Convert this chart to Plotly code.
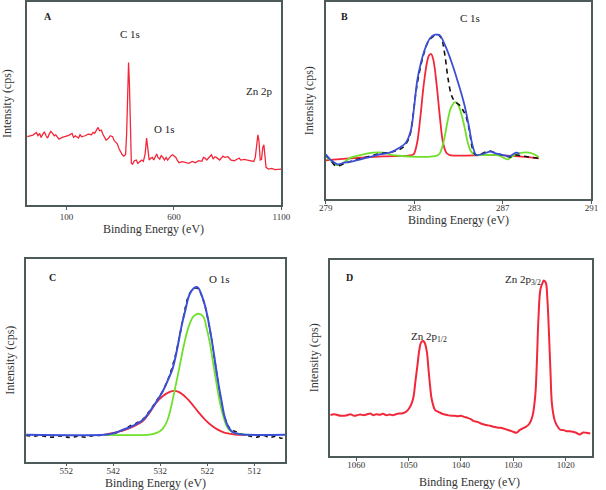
import plotly.graph_objects as go

# ---------------- Panel A: survey spectrum ----------------
A_be = [-83, -71, -56, -40, -33, -25, -18, -10, -3, 5, 12, 20, 27, 35, 43, 50, 58, 65, 80, 95,
        111, 126, 133, 141, 156, 163, 171, 186, 201, 216, 224, 231, 239, 247, 254, 262, 269, 277,
        284, 292, 304, 315, 322, 330, 337, 345, 352, 360, 367, 375, 380, 384, 389, 393, 398, 402,
        408, 416, 425, 432, 443, 451, 458, 466, 473, 479, 485, 493, 500, 506, 514, 520, 526, 534,
        541, 549, 556, 564, 571, 579, 587, 594, 602, 609, 617, 624, 639, 655, 670, 685, 700, 715,
        730, 738, 745, 753, 768, 775, 783, 791, 798, 806, 813, 821, 828, 836, 851, 866, 881, 896,
        904, 911, 927, 942, 957, 972, 979, 987, 991, 996, 1002, 1008, 1014, 1019, 1023, 1029,
        1040, 1055, 1070, 1085, 1100]
A_int = [2060, 2090, 2110, 2190, 2090, 2160, 2040, 2140, 2210, 2090, 2020, 2140, 2220, 2160, 2090,
         2120, 2040, 1990, 2040, 2060, 2100, 2160, 2040, 2090, 2020, 2120, 2060, 2090, 2140, 2120,
         2190, 2160, 2240, 2340, 2240, 2260, 2140, 2020, 1960, 1990, 2090, 2060, 1940, 1890, 1840,
         1690, 1590, 1520, 1480, 1520, 2140, 3640, 4290, 3640, 1940, 1260, 1240, 1340, 1360, 1260,
         1320, 1360, 1320, 1540, 2020, 1740, 1360, 1420, 1440, 1360, 1460, 1540, 1440, 1390, 1490,
         1440, 1360, 1440, 1360, 1440, 1490, 1520, 1490, 1440, 1340, 1280, 1310, 1280, 1260, 1320,
         1280, 1340, 1320, 1440, 1420, 1360, 1460, 1520, 1390, 1460, 1440, 1400, 1360, 1420, 1480,
         1440, 1460, 1360, 1340, 1390, 1420, 1360, 1380, 1360, 1340, 1320, 1440, 1940, 2120, 1940,
         1360, 1380, 1740, 1820, 1440, 1140, 1090, 1110, 1070, 1090, 1090]
A_ticks = [100, 600, 1100]

# ---------------- Panel B: C 1s ----------------
B_raw_be = [279.00, 279.25, 279.47, 279.84, 280.27, 280.86, 281.45, 282.03, 282.47, 282.77, 282.91,
            283.06, 283.21, 283.42, 283.64, 283.86, 284.08, 284.23, 284.38, 284.52, 284.67, 284.82,
            285.04, 285.18, 285.33, 285.48, 285.62, 285.77, 285.92, 286.14, 286.43, 286.72, 287.01,
            287.31, 287.60, 287.89, 288.19, 288.63]
B_raw = [1320, 1140, 990, 1060, 1160, 1260, 1360, 1420, 1540, 1840, 2340, 3140, 3740, 4340, 4740,
         4890, 4940, 4820, 4340, 3640, 3140, 2940, 2820, 2690, 2490, 2090, 1540, 1320, 1320, 1390,
         1440, 1360, 1320, 1260, 1320, 1290, 1260, 1220]
B_env_be = [279.00, 279.25, 279.54, 279.84, 280.27, 280.86, 281.45, 281.89, 282.33, 282.62, 282.84,
            282.99, 283.13, 283.28, 283.50, 283.72, 283.94, 284.05, 284.16, 284.38, 284.67, 284.96,
            285.26, 285.48, 285.62, 285.77, 285.84, 286.14, 286.43, 286.72, 287.01, 287.31, 287.60,
            287.75]
B_env = [1340, 1160, 1040, 1090, 1140, 1240, 1340, 1390, 1540, 1690, 2040, 2740, 3540, 4040, 4540,
         4840, 4940, 4940, 4920, 4640, 4140, 3540, 2840, 2140, 1640, 1340, 1320, 1360, 1420, 1360,
         1320, 1290, 1390, 1360]
B_red_be = [279.00, 280.13, 281.59, 282.91, 282.99, 283.13, 283.28, 283.42, 283.57, 283.67, 283.76,
            283.86, 284.01, 284.16, 284.30, 284.45, 284.60, 286.72, 288.63]
B_red = [1160, 1220, 1280, 1320, 1360, 1690, 2490, 3390, 4090, 4320, 4360, 4190, 3440, 2440, 1690,
         1390, 1320, 1320, 1220]
B_green_be = [279.00, 279.25, 279.47, 279.69, 280.13, 280.57, 281.15, 281.59, 282.03, 284.08, 284.23,
              284.38, 284.52, 284.67, 284.85, 284.96, 285.11, 285.26, 285.40, 285.55, 285.70, 285.84,
              286.72, 286.87, 287.09, 287.23, 287.38, 287.60, 287.89, 288.19, 288.48, 288.63]
B_green = [1290, 1140, 1020, 1040, 1240, 1320, 1390, 1390, 1320, 1320, 1490, 1890, 2390, 2760, 2910,
           2860, 2590, 2190, 1740, 1440, 1340, 1320, 1320, 1290, 1220, 1190, 1260, 1340, 1390, 1390,
           1320, 1240]
B_ticks = [279, 283, 287, 291]

# ---------------- Panel C: O 1s ----------------
C_raw_be = [560.5, 559.1, 557.7, 556.4, 555.0, 553.6, 552.2, 550.8, 549.5, 548.1, 546.7, 545.3, 543.9,
            542.5, 541.2, 539.8, 538.4, 537.0, 535.6, 534.2, 532.9, 531.5, 530.1, 528.7, 527.3, 526.0,
            525.0, 524.3, 523.6, 522.5, 521.1, 519.7, 518.4, 517.0, 515.6, 514.2, 512.8, 511.5, 510.1,
            508.7, 507.3, 506.3, 505.4]
C_raw = [780, 760, 780, 750, 730, 770, 740, 720, 760, 730, 770, 780, 800, 820, 870, 950, 1070, 1160,
         1280, 1530, 1800, 2110, 2560, 3230, 4180, 4960, 5180, 5200, 5100, 4660, 3660, 2360, 1360, 960,
         880, 800, 760, 730, 780, 720, 760, 700, 730]
C_env_be = [560.5, 543.9, 542.5, 541.2, 539.8, 538.4, 537.0, 535.6, 534.2, 532.9, 531.5, 530.1, 529.4,
            528.7, 528.0, 527.3, 526.6, 526.0, 525.3, 524.4, 523.9, 523.2, 522.5, 521.8, 521.1, 520.4,
            519.7, 519.0, 518.4, 517.7, 517.0, 516.3, 514.9, 513.5, 505.4]
C_env = [800, 800, 830, 880, 960, 1030, 1130, 1260, 1510, 1780, 2100, 2530, 2780, 3180, 3680, 4180,
         4580, 4930, 5130, 5230, 5200, 4980, 4680, 4230, 3680, 3030, 2380, 1830, 1380, 1080, 930, 860,
         820, 800, 800]
C_green_be = [543.9, 534.2, 532.9, 531.5, 530.5, 529.8, 529.1, 528.0, 527.0, 526.0, 524.9, 523.7,
              522.8, 522.2, 521.5, 520.8, 520.1, 519.4, 518.7, 518.0, 517.3, 516.3, 514.9, 513.5]
C_green = [800, 810, 850, 980, 1230, 1580, 2030, 2780, 3480, 4030, 4360, 4430, 4330, 4030, 3580, 2980,
           2380, 1830, 1400, 1100, 940, 860, 820, 800]
C_red_be = [543.9, 541.2, 538.4, 535.6, 534.2, 532.9, 531.5, 530.1, 529.1, 528.0, 526.6, 525.3, 523.9,
            522.5, 521.1, 519.7, 518.4, 517.0, 515.6, 513.5]
C_red = [810, 880, 1010, 1230, 1480, 1760, 1960, 2080, 2120, 2080, 1930, 1730, 1480, 1260, 1080, 950,
         870, 830, 800, 800]
C_ticks = [552, 542, 532, 522, 512]

# ---------------- Panel D: Zn 2p ----------------
D_be = [1064.9, 1064.2, 1062.9, 1061.7, 1061.1, 1060.4, 1059.8, 1059.2, 1058.6, 1058.0, 1057.3, 1057.0,
        1056.7, 1056.1, 1055.5, 1054.9, 1054.2, 1053.6, 1053.0, 1052.4, 1051.8, 1051.1, 1050.5,
        1049.9, 1049.3, 1049.0, 1048.7, 1048.3, 1048.0, 1047.7, 1047.4, 1047.2, 1046.9, 1046.5,
        1046.2, 1045.9, 1045.6, 1045.2, 1044.9, 1044.3, 1043.7, 1043.1, 1042.5, 1041.8, 1041.2,
        1040.6, 1040.0, 1039.4, 1038.7, 1038.1, 1037.5, 1036.9, 1036.2, 1035.6, 1035.0, 1034.4,
        1033.8, 1033.1, 1032.5, 1031.9, 1031.3, 1030.7, 1030.0, 1029.4, 1028.8, 1028.2, 1027.6,
        1026.9, 1026.3, 1025.8, 1025.5, 1025.2, 1024.8, 1024.3, 1024.2, 1023.8, 1023.5, 1023.2,
        1022.9, 1022.6, 1022.1, 1021.7, 1021.1, 1020.4, 1019.8, 1019.2, 1018.6, 1018.0, 1017.3,
        1016.7, 1016.1, 1015.3]
D_int = [1220, 1250, 1200, 1220, 1250, 1200, 1220, 1240, 1220, 1240, 1270, 1240, 1220, 1250, 1230,
         1260, 1220, 1240, 1220, 1250, 1270, 1280, 1320, 1420, 1620, 1820, 2220, 2720, 3120, 3370,
         3440, 3450, 3390, 3120, 2620, 2120, 1720, 1470, 1370, 1320, 1270, 1240, 1220, 1200, 1200,
         1190, 1200, 1170, 1140, 1100, 1040, 1020, 970, 940, 920, 900, 870, 850, 840, 820, 790, 760,
         720, 690, 770, 820, 870, 970, 1220, 1820, 2820, 4120, 5020, 5240, 5270, 5200, 4720, 3720,
         2520, 1520, 1070, 920, 790, 770, 740, 740, 720, 690, 640, 700, 690, 670]
D_ticks = [1060, 1050, 1040, 1030, 1020]

RED = "#f2283a"
BLUE = "#3b4fd6"
GREEN = "#6ee02a"
FRAME = "#4d5a5a"
SERIF = "Liberation Serif"

fig = go.Figure()
fig.add_trace(go.Scatter(x=A_be, y=A_int, mode="lines", line=dict(color=RED, width=1.3),
                         xaxis="x", yaxis="y", showlegend=False))

fig.add_trace(go.Scatter(x=B_red_be, y=B_red, mode="lines", line=dict(color=RED, width=1.8, shape="spline"),
                         xaxis="x2", yaxis="y2", showlegend=False))
fig.add_trace(go.Scatter(x=B_green_be, y=B_green, mode="lines", line=dict(color=GREEN, width=1.8, shape="spline"),
                         xaxis="x2", yaxis="y2", showlegend=False))
fig.add_trace(go.Scatter(x=B_raw_be, y=B_raw, mode="lines",
                         line=dict(color="#111111", width=1.6, dash="5px,4px", shape="spline"),
                         xaxis="x2", yaxis="y2", showlegend=False))
fig.add_trace(go.Scatter(x=B_env_be, y=B_env, mode="lines", line=dict(color=BLUE, width=1.8, shape="spline"),
                         xaxis="x2", yaxis="y2", showlegend=False))

fig.add_trace(go.Scatter(x=C_raw_be, y=C_raw, mode="lines",
                         line=dict(color="#111111", width=1.6, dash="4px,4px", shape="spline"),
                         xaxis="x3", yaxis="y3", showlegend=False))
fig.add_trace(go.Scatter(x=C_red_be, y=C_red, mode="lines", line=dict(color=RED, width=1.8, shape="spline"),
                         xaxis="x3", yaxis="y3", showlegend=False))
fig.add_trace(go.Scatter(x=C_green_be, y=C_green, mode="lines", line=dict(color=GREEN, width=1.8, shape="spline"),
                         xaxis="x3", yaxis="y3", showlegend=False))
fig.add_trace(go.Scatter(x=C_env_be, y=C_env, mode="lines", line=dict(color=BLUE, width=2.0, shape="spline"),
                         xaxis="x3", yaxis="y3", showlegend=False))

fig.add_trace(go.Scatter(x=D_be, y=D_int, mode="lines", line=dict(color=RED, width=2.0, shape="spline"),
                         xaxis="x4", yaxis="y4", showlegend=False))

tickfont = dict(family=SERIF, size=9, color="#333333")
titlefont = dict(family=SERIF, size=12, color="#333333")


def xax(dom, rng, ticks, anchor, lab_standoff):
    return dict(domain=dom, range=rng, tickvals=ticks, ticktext=[str(t) for t in ticks],
                showline=True, linecolor=FRAME, linewidth=1.5, mirror=True,
                ticks="outside", ticklen=3, tickwidth=1, tickcolor=FRAME,
                ticklabelstandoff=lab_standoff,
                showgrid=False, zeroline=False, tickfont=tickfont, anchor=anchor)


def yax(dom, rng, anchor, standoff):
    return dict(domain=dom, range=rng, showline=True, linecolor=FRAME, linewidth=1.5, mirror=True,
                showticklabels=False, ticks="", showgrid=False, zeroline=False, anchor=anchor,
                title=dict(text="Intensity (cps)", font=titlefont, standoff=standoff))


fig.update_layout(
    width=606, height=490, margin=dict(l=0, r=0, t=0, b=0),
    paper_bgcolor="white", plot_bgcolor="white",
    xaxis=xax([0.0342, 0.4649], [-83, 1100], A_ticks, "y", -1),
    yaxis=yax([0.5822, 0.998], [0, 6110], "x", 11),
    xaxis2=xax([0.5401, 0.9906], [279, 291], B_ticks, "y2", -3),
    yaxis2=yax([0.5953, 0.997], [0, 5910], "x2", 8),
    xaxis3=xax([0.0318, 0.4719], [560.6, 505.4], C_ticks, "y3", -3),
    yaxis3=yax([0.0582, 0.4729], [0, 6080], "x3", 7),
    xaxis4=xax([0.5474, 0.9913], [1065, 1015], D_ticks, "y4", -3),
    yaxis4=yax([0.0700, 0.4708], [0, 5890], "x4", 7),
)

lab = dict(family=SERIF, size=11, color="#222222")
bold = dict(family=SERIF, size=10, color="#222222")


def ann(text, px, py, font):
    fig.add_annotation(text=text, x=px / 606, y=1 - py / 490, xref="paper", yref="paper",
                       showarrow=False, font=font, xanchor="center", yanchor="middle")


# x-axis titles
ann("Binding Energy (eV)", 150.5, 228.3, titlefont)
ann("Binding Energy (eV)", 463.8, 219.3, titlefont)
ann("Binding Energy (eV)", 152.5, 482.5, titlefont)
ann("Binding Energy (eV)", 474.7, 482.0, titlefont)

ann("<b>A</b>", 41.7, 16, bold)
ann("C 1s", 126.7, 32.7, lab)
ann("O 1s", 161.7, 128.3, lab)
ann("Zn 2p", 259.3, 90, lab)
ann("<b>B</b>", 346.3, 15.7, bold)
ann("C 1s", 475.7, 17.3, lab)
ann("<b>C</b>", 46.7, 276.7, bold)
ann("O 1s", 217.3, 278.3, lab)
ann("<b>D</b>", 352.3, 276.7, bold)
ann("Zn 2p<sub>3/2</sub>", 530.3, 280, lab)
ann("Zn 2p<sub>1/2</sub>", 433, 337, lab)

fig.write_html("out.html", config={"displayModeBar": False},
               post_script="document.body.style.margin='0';document.body.style.overflow='hidden';")
